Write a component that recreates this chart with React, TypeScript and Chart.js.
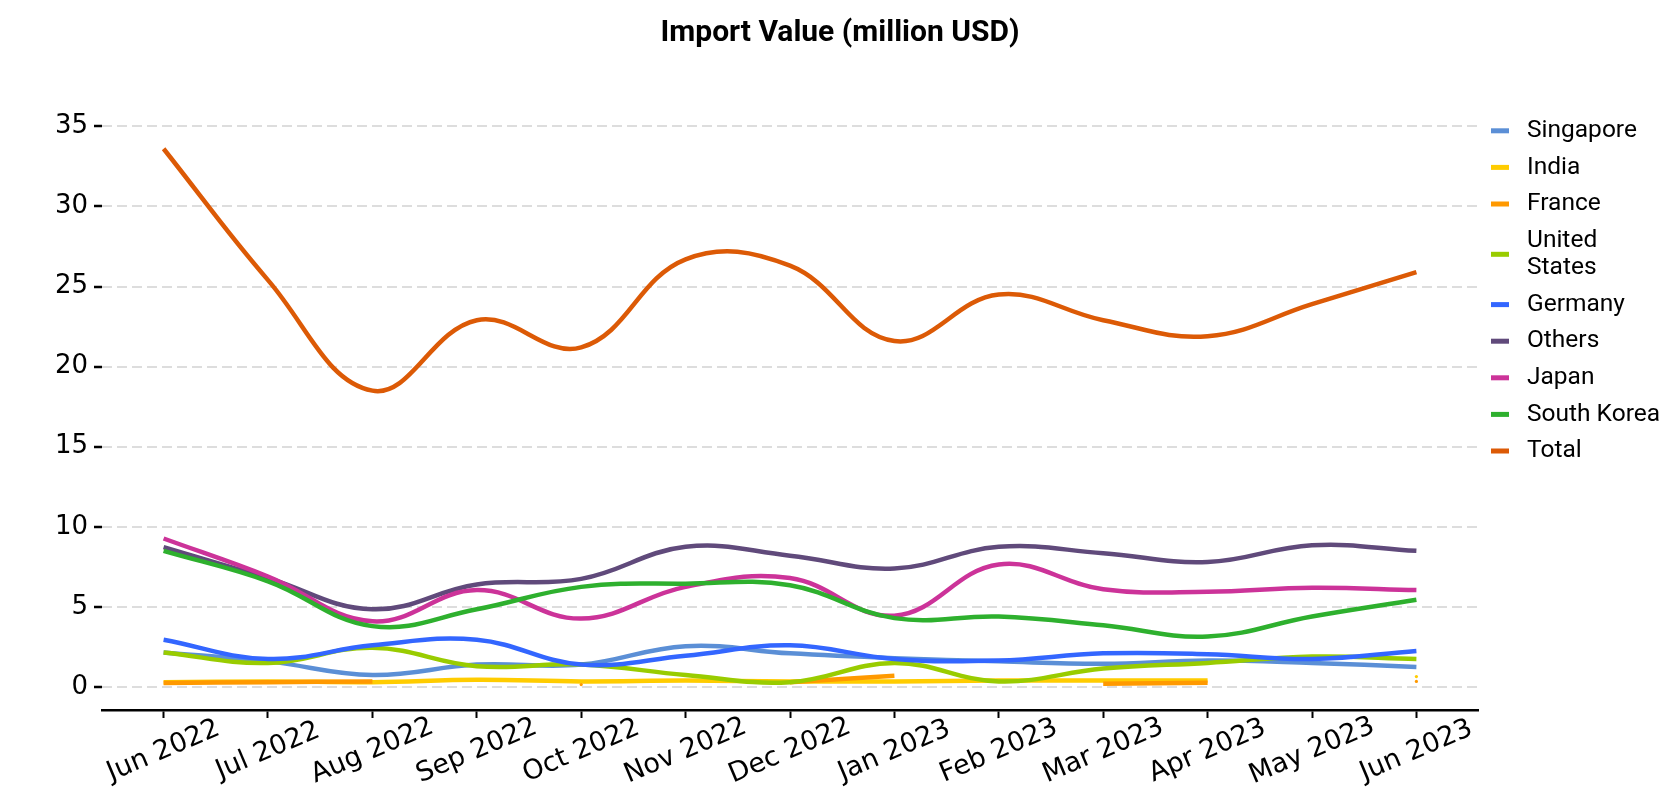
import React, { useEffect, useRef } from "react";
import { Chart, registerables } from "chart.js";

Chart.register(...registerables);

const MONTHS = [
  "Jun 2022", "Jul 2022", "Aug 2022", "Sep 2022", "Oct 2022", "Nov 2022", "Dec 2022",
  "Jan 2023", "Feb 2023", "Mar 2023", "Apr 2023", "May 2023", "Jun 2023",
];
const Y_TICKS = [0, 5, 10, 15, 20, 25, 30, 35];

const SINGAPORE = [2.15, 1.6, 0.75, 1.4, 1.4, 2.55, 2.1, 1.8, 1.6, 1.45, 1.65, 1.5, 1.25];
const INDIA = [0.3, 0.35, 0.3, 0.45, 0.35, 0.4, 0.35, 0.35, 0.4, 0.4, 0.4, null, 0.65];
const FRANCE = [0.25, 0.3, 0.35, null, 0.15, null, 0.3, 0.7, null, 0.2, 0.27, null, 0.35];
const UNITED_STATES = [2.15, 1.5, 2.45, 1.3, 1.4, 0.75, 0.3, 1.5, 0.35, 1.15, 1.5, 1.9, 1.75];
const GERMANY = [2.95, 1.75, 2.6, 2.95, 1.4, 1.95, 2.6, 1.75, 1.65, 2.1, 2.05, 1.75, 2.25];
const OTHERS = [8.73, 6.8, 4.85, 6.4, 6.75, 8.75, 8.2, 7.4, 8.75, 8.35, 7.8, 8.85, 8.5];
const JAPAN = [9.27, 6.9, 4.1, 6.05, 4.27, 6.25, 6.8, 4.45, 7.65, 6.1, 5.95, 6.2, 6.05];
const SOUTH_KOREA = [8.5, 6.6, 3.8, 4.85, 6.25, 6.45, 6.35, 4.3, 4.4, 3.85, 3.15, 4.4, 5.45];
const TOTAL = [33.6, 25.4, 18.5, 22.9, 21.2, 26.7, 26.3, 21.6, 24.5, 22.9, 21.9, 23.9, 25.9];

const SERIES_NAMES = [
  "Singapore", "India", "France", "United States", "Germany", "Others", "Japan", "South Korea", "Total",
];
const SERIES_VALUES = [SINGAPORE, INDIA, FRANCE, UNITED_STATES, GERMANY, OTHERS, JAPAN, SOUTH_KOREA, TOTAL];
const COLORS = [
  "#5b8fd6", "#ffcc00", "#ff9900", "#99cc00", "#3366ff", "#604a7b", "#cc3399", "#2eb02e", "#dc5a06",
];

const TITLE = "Import Value (million USD)";

const wrapLabel = (s: string, width: number) => {
  const words = s.split(" ");
  const lines: string[] = [];
  let cur = "";
  for (const w of words) {
    if (!cur) cur = w;
    else if ((cur + " " + w).length <= width) cur = cur + " " + w;
    else {
      lines.push(cur);
      cur = w;
    }
  }
  if (cur) lines.push(cur);
  return lines;
};

const customPlugin = {
  id: "customDecor",
  afterDraw(chart: any) {
    const ctx = chart.ctx;
    const xs = chart.scales.x;
    const bottom = chart.chartArea.bottom;
    // x tick labels, centered and rotated
    ctx.save();
    ctx.fillStyle = "#000";
    ctx.font = "27px 'DejaVu Sans'";
    ctx.textAlign = "center";
    ctx.textBaseline = "middle";
    MONTHS.forEach((m, i) => {
      const x = xs.getPixelForValue(i);
      ctx.save();
      ctx.translate(x, bottom + 41);
      ctx.rotate((-23 * Math.PI) / 180);
      ctx.fillText(m, 0, 0);
      ctx.restore();
    });
    ctx.restore();

    // legend
    ctx.save();
    ctx.font = "24.5px Roboto";
    ctx.textAlign = "left";
    ctx.textBaseline = "middle";
    const boxX = 1491;
    const textX = 1527;
    const row = 36.6;
    const lineH = 27.4;
    let y = 130.8;
    SERIES_NAMES.forEach((name, i) => {
      const lines = wrapLabel(name, 12);
      const extra = (lines.length - 1) * lineH;
      const cy = y + extra / 2;
      ctx.fillStyle = COLORS[i];
      ctx.fillRect(boxX, cy - 2.5, 18, 5);
      ctx.fillStyle = "#000";
      lines.forEach((ln, k) => {
        ctx.fillText(ln, textX, y + k * lineH);
      });
      y += extra + row;
    });
    ctx.restore();
  },
};

export default function App() {
  const ref = useRef<HTMLCanvasElement | null>(null);
  useEffect(() => {
    if (!ref.current) return;
    const datasets = SERIES_NAMES.map((name, i) => {
      const vals = SERIES_VALUES[i];
      return {
        label: name,
        data: vals.map((v, k) => ({ x: k, y: v })),
        borderColor: COLORS[i],
        backgroundColor: COLORS[i],
        borderWidth: 4.5,
        tension: 0.4,
        fill: false,
        spanGaps: false,
        borderCapStyle: "butt" as const,
        order: SERIES_NAMES.length - i,
        pointRadius: (c: any) => {
          const k = c.dataIndex;
          if (vals[k] === null) return 0;
          const prev = k > 0 ? vals[k - 1] : null;
          const next = k < vals.length - 1 ? vals[k + 1] : null;
          return prev === null && next === null ? 1.6 : 0;
        },
        pointBorderWidth: 0,
        pointHoverRadius: 0,
      };
    });
    const chart = new Chart(ref.current, {
      type: "line",
      data: { datasets },
      plugins: [customPlugin],
      options: {
        animation: false,
        responsive: false,
        devicePixelRatio: 1,
        layout: { padding: 0 },
        plugins: {
          legend: { display: false },
          tooltip: { enabled: false },
          title: {
            display: true,
            text: TITLE,
            color: "#000",
            font: { family: "Roboto", size: 30, weight: "bold", lineHeight: 1.2 },
            padding: { top: 15, bottom: 33.7 },
          },
        },
        scales: {
          x: {
            type: "linear",
            min: -0.59,
            max: 12.59,
            afterBuildTicks: (s: any) => {
              s.ticks = MONTHS.map((_, i) => ({ value: i }));
            },
            afterFit: (s: any) => {
              s.height = 90;
            },
            ticks: { display: false },
            grid: {
              drawOnChartArea: false,
              drawTicks: true,
              tickLength: 8,
              tickColor: "#000",
              tickWidth: 2,
            },
            border: { display: true, color: "#000", width: 2.5 },
          },
          y: {
            type: "linear",
            min: -1.436,
            max: 37.6,
            afterBuildTicks: (s: any) => {
              s.ticks = Y_TICKS.map((v) => ({ value: v }));
            },
            afterFit: (s: any) => {
              s.width = 102;
            },
            ticks: {
              color: "#000",
              font: { family: "DejaVu Sans", size: 26 },
              padding: 6,
              callback: (v: any) => String(v),
            },
            grid: {
              color: "#dddddd",
              lineWidth: 2,
              drawTicks: true,
              tickLength: 8,
              tickColor: "#000",
              tickWidth: 2.5,
              tickBorderDash: [],
            },
            border: { display: false, dash: [10, 5] },
          },
          yRight: {
            type: "linear",
            position: "right",
            display: true,
            afterFit: (s: any) => {
              s.width = 202;
            },
            ticks: { display: false },
            grid: { display: false, drawTicks: false },
            border: { display: false },
          },
        },
      } as any,
    });
    return () => chart.destroy();
  }, []);
  return (
    <div style={{ position: "fixed", left: 0, top: 0, width: 1680, height: 800, background: "#fff" }}>
      <canvas ref={ref} width={1680} height={800} />
    </div>
  );
}
